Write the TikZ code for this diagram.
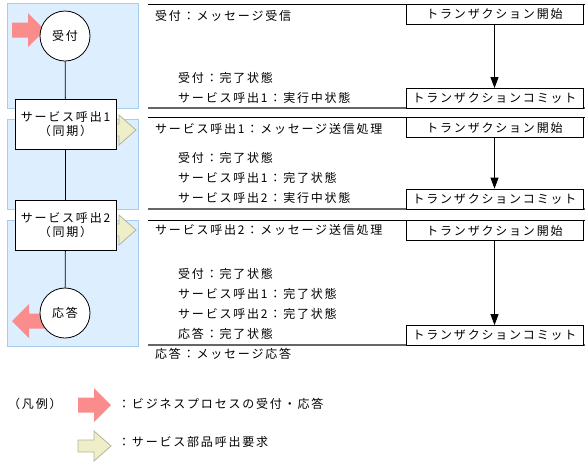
\documentclass[tikz,border=0pt]{standalone}
\usepackage{fontspec}
\setmainfont{Noto Sans CJK JP}[LetterSpace=15]
\usetikzlibrary{arrows.meta,calc}
\definecolor{panelfill}{HTML}{DDEEFF}
\definecolor{paneldraw}{HTML}{A8CCF0}
\definecolor{bpred}{HTML}{FA8C8C}
\definecolor{svyellow}{HTML}{EEEEC8}
\definecolor{svdraw}{HTML}{B4B49C}
\tikzset{
	panel/.style={fill=panelfill,draw=paneldraw,line width=0.8pt},
	state/.style={circle,draw,fill=white,line width=0.8pt,minimum size=50pt,inner sep=0pt},
	callbox/.style={draw,fill=white,line width=0.8pt,minimum width=101pt,minimum height=50pt,align=center,inner sep=0pt},
	txbox/.style={draw,fill=white,line width=0.8pt,minimum width=177pt,minimum height=20pt,inner sep=0pt},
	msg/.style={anchor=west,inner sep=0pt},
	link/.style={line width=0.8pt},
	sep/.style={line width=0.8pt},
	endsep/.style={draw=black!60,line width=2pt},
	flow/.style={-{Triangle[length=11pt,width=8pt]},line width=0.8pt},
	bparrow/.pic={\fill[bpred] (0,-7.5) -- (16,-7.5) -- (16,-17) -- (33,0) -- (16,17) -- (16,7.5) -- (0,7.5) -- cycle;},
	svarrow/.pic={\filldraw[fill=svyellow,draw=svdraw,line width=0.8pt] (0,-6) -- (16,-6) -- (16,-15) -- (33,0) -- (16,15) -- (16,6) -- (0,6) -- cycle;}
}

\begin{document}
\begin{tikzpicture}[x=1pt,y=-1pt,font=\fontsize{12pt}{14pt}\selectfont]
    \useasboundingbox (0,0) rectangle (585,461);
    % lanes of the process
    \draw[panel] (7,3) rectangle (138,108);
    \draw[panel] (7,119) rectangle (138,209);
    \draw[panel] (7,220) rectangle (138,346);
    \pic at (12,30) {bparrow};
    \pic at (103,130) {svarrow};
    \pic at (103,230) {svarrow};
    \pic[rotate=180] at (45,321) {bparrow};
    \node[state] (uke) at (65,36) {受付};
    \node[callbox] (call1) at (65.5,124) {サービス呼出1\\（同期）};
    \node[callbox] (call2) at (65.5,225) {サービス呼出2\\（同期）};
    \node[state] (resp) at (65,313) {応答};
    \draw[link] (uke) -- (call1);
    \draw[link] (call1) -- (call2);
    \draw[link] (call2) -- (resp);
    % transactions
    \draw[sep] (148,4) -- (585,4);
    \draw[endsep] (148,108) -- (585,108);
    \draw[sep] (148,117) -- (585,117);
    \draw[endsep] (148,209) -- (585,209);
    \draw[sep] (148,220) -- (585,220);
    \draw[endsep] (148,345) -- (585,345);
    \node[txbox] (start1) at (494.5,14) {トランザクション開始};
    \node[txbox] (commit1) at (494.5,98.5) {トランザクションコミット};
    \node[txbox] (start2) at (494.5,127.5) {トランザクション開始};
    \node[txbox] (commit2) at (494.5,199) {トランザクションコミット};
    \node[txbox] (start3) at (494.5,230.5) {トランザクション開始};
    \node[txbox] (commit3) at (494.5,335.5) {トランザクションコミット};
    \draw[flow] (start1.south) -- (start1.south |- commit1.north);
    \draw[flow] (start2.south) -- (start2.south |- commit2.north);
    \draw[flow] (start3.south) -- (start3.south |- commit3.north);
    \node[msg] (m1) at (155,16) {受付：メッセージ受信};
    \node[msg] (s11) at (178,78) {受付：完了状態};
    \node[msg] (s12) at (178,98) {サービス呼出1：実行中状態};
    \node[msg] (m2) at (155,129) {サービス呼出1：メッセージ送信処理};
    \node[msg] (s21) at (178,158) {受付：完了状態};
    \node[msg] (s22) at (178,178) {サービス呼出1：完了状態};
    \node[msg] (s23) at (178,198) {サービス呼出2：実行中状態};
    \node[msg] (m3) at (155,230) {サービス呼出2：メッセージ送信処理};
    \node[msg] (s31) at (178,274) {受付：完了状態};
    \node[msg] (s32) at (178,294) {サービス呼出1：完了状態};
    \node[msg] (s33) at (178,314) {サービス呼出2：完了状態};
    \node[msg] (s34) at (178,334) {応答：完了状態};
    \node[msg] (m4) at (155,354) {応答：メッセージ応答};
    % legend
    \node[msg] (legend) at (8,404) {（凡例）};
    \pic at (78,405) {bparrow};
    \node[msg] (lg1) at (118,404) {：ビジネスプロセスの受付・応答};
    \pic at (78,446) {svarrow};
    \node[msg] (lg2) at (118,442) {：サービス部品呼出要求};
\end{tikzpicture}
\end{document}
